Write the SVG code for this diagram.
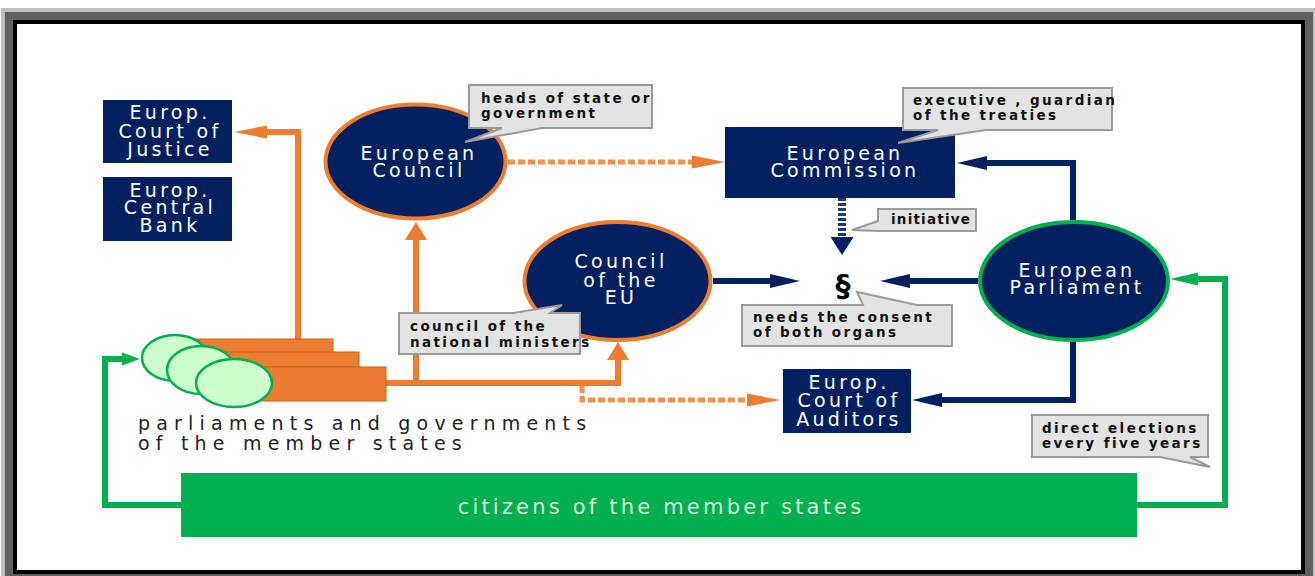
<svg xmlns="http://www.w3.org/2000/svg" width="1315" height="576" viewBox="0 0 1315 576">
<style>
.navy{fill:#002060}
.nt{font-family:"DejaVu Sans",Verdana,sans-serif;font-size:19px;fill:#ffffff;text-anchor:middle;letter-spacing:3.3px}
.ct{font-family:"DejaVu Sans",Verdana,sans-serif;font-size:13.5px;font-weight:bold;fill:#111111;letter-spacing:2.4px}
.call{fill:#e3e3e3;stroke:#9a9a9a;stroke-width:2}
.ol{fill:none;stroke:#ed7d31;stroke-width:6}
.od{fill:none;stroke:#f0924f;stroke-width:5;stroke-dasharray:7 3}
.nl{fill:none;stroke:#002060;stroke-width:6}
.nd{fill:none;stroke:#1c3a7a;stroke-width:8;stroke-dasharray:3 2}
.gl{fill:none;stroke:#00b050;stroke-width:6}
.pc{fill:#ccffcc;stroke:#00b050;stroke-width:2.5}
.or{fill:#ed7d31;stroke:#c8621e;stroke-width:1}
.pt{font-family:"DejaVu Sans",Verdana,sans-serif;font-size:19px;fill:#222222;letter-spacing:6.2px}
</style>
<defs>
<marker id="oLong" markerUnits="userSpaceOnUse" markerWidth="34" markerHeight="14" refX="0" refY="6.5" orient="auto" overflow="visible"><path d="M0,0 L33,6.5 L0,13 Z" fill="#ed7d31"/></marker>
<marker id="oShort" markerUnits="userSpaceOnUse" markerWidth="18" markerHeight="22" refX="0" refY="11" orient="auto" overflow="visible"><path d="M0,0 L18,11 L0,22 Z" fill="#ed7d31"/></marker>
<marker id="nLong" markerUnits="userSpaceOnUse" markerWidth="30" markerHeight="14" refX="0" refY="7" orient="auto" overflow="visible"><path d="M0,0 L30,7 L0,14 Z" fill="#002060"/></marker>
<marker id="nShort" markerUnits="userSpaceOnUse" markerWidth="18" markerHeight="23" refX="0" refY="11.5" orient="auto" overflow="visible"><path d="M0,0 L18,11.5 L0,23 Z" fill="#002060"/></marker>
<marker id="gArr" markerUnits="userSpaceOnUse" markerWidth="28" markerHeight="13" refX="0" refY="6.5" orient="auto" overflow="visible"><path d="M0,0 L28,6.5 L0,13 Z" fill="#00b050"/></marker>
<marker id="gArrS" markerUnits="userSpaceOnUse" markerWidth="18" markerHeight="13" refX="0" refY="6.5" orient="auto" overflow="visible"><path d="M0,0 L18,6.5 L0,13 Z" fill="#00b050"/></marker>
</defs>
<rect x="0" y="0" width="1315" height="576" fill="#ffffff"/>
<g id="frame">
<rect x="1" y="8" width="1314" height="568" fill="#c0c0c0"/>
<rect x="5" y="12" width="1308" height="564" fill="#606060"/>
<rect x="13" y="20" width="1292" height="554" fill="#000000"/>
<rect x="17" y="24" width="1284" height="546" fill="#ffffff"/>
</g>
<g id="connectors">
<path class="ol" d="M298,339 V132 H267" marker-end="url(#oLong)"/>
<path class="ol" d="M386,383 H618 V360" marker-end="url(#oShort)"/>
<path class="ol" d="M416,383 V240" marker-end="url(#oShort)"/>
<path class="od" d="M582,386 V400 H747" marker-end="url(#oLong)"/>
<path class="od" d="M508,162 H692" marker-end="url(#oLong)"/>
<path class="nl" d="M713,281 H770" marker-end="url(#nLong)"/>
<path class="nl" d="M978,281 H910" marker-end="url(#nLong)"/>
<path class="nd" d="M842,198 V237" marker-end="url(#nShort)"/>
<path class="nl" d="M1073,220 V163 H987" marker-end="url(#nLong)"/>
<path class="nl" d="M1073,342 V400 H942" marker-end="url(#nLong)"/>
<path class="gl" d="M181,505 H105 V359 H122" marker-end="url(#gArrS)"/>
<path class="gl" d="M1137,505 H1225 V279 H1198" marker-end="url(#gArr)"/>
</g>
<g id="court-of-justice">
<rect class="navy" x="103" y="100" width="129" height="63"/>
<text class="nt" x="170" y="119">Europ.</text>
<text class="nt" x="170" y="138">Court of</text>
<text class="nt" x="170" y="156">Justice</text>
</g>
<g id="central-bank">
<rect class="navy" x="103" y="177" width="129" height="64"/>
<text class="nt" x="170" y="197">Europ.</text>
<text class="nt" x="170" y="214">Central</text>
<text class="nt" x="170" y="232">Bank</text>
</g>
<g id="european-council">
<ellipse cx="415.5" cy="161.5" rx="90" ry="57" fill="#002060" stroke="#ed7d31" stroke-width="4"/>
<text class="nt" x="419" y="160">European</text>
<text class="nt" x="419" y="177">Council</text>
</g>
<g id="callout-heads">
<path class="call" d="M469,85 H652 V128 H542 L465,142 L502,128 H469 Z"/>
<text class="ct" x="481" y="103">heads of state or</text>
<text class="ct" x="481" y="118">government</text>
</g>
<g id="european-commission">
<rect class="navy" x="725" y="127" width="230" height="71"/>
<text class="nt" x="845" y="160">European</text>
<text class="nt" x="845" y="177">Commission</text>
</g>
<g id="callout-executive">
<path class="call" d="M903,88 H1112 V130 H986 L898,143 L938,130 H903 Z"/>
<text class="ct" x="913" y="105">executive , guardian</text>
<text class="ct" x="913" y="120">of the treaties</text>
</g>
<g id="callout-initiative">
<path class="call" d="M878,209 H976 V231 H878 L852,230 L878,221 Z"/>
<text class="ct" x="891" y="224" style="letter-spacing:1.2px">initiative</text>
</g>
<g id="council-of-eu">
<ellipse cx="617.5" cy="281" rx="93" ry="59" fill="#002060" stroke="#ed7d31" stroke-width="4"/>
<text class="nt" x="621" y="268">Council</text>
<text class="nt" x="621" y="287">of the</text>
<text class="nt" x="621" y="304">EU</text>
</g>
<g id="callout-ministers">
<path class="call" d="M399,313 H513 L562,305 L550,313 H580 V354 H399 Z"/>
<text class="ct" x="410" y="331">council of the</text>
<text class="ct" x="410" y="347">national ministers</text>
</g>
<g id="paragraph">
<text x="843" y="296" style="font-family:'DejaVu Sans',sans-serif;font-size:30px;font-weight:bold;fill:#000000;text-anchor:middle">§</text>
</g>
<g id="callout-consent">
<path class="call" d="M742,305 H863 L857,292 L917,305 H952 V346 H742 Z"/>
<text class="ct" x="753" y="322">needs the consent</text>
<text class="ct" x="753" y="337">of both organs</text>
</g>
<g id="european-parliament">
<ellipse cx="1074" cy="281" rx="94" ry="59" fill="#002060" stroke="#00b050" stroke-width="4"/>
<text class="nt" x="1077" y="277">European</text>
<text class="nt" x="1077" y="294">Parliament</text>
</g>
<g id="court-of-auditors">
<rect class="navy" x="783" y="369" width="128" height="64"/>
<text class="nt" x="849" y="389">Europ.</text>
<text class="nt" x="849" y="407">Court of</text>
<text class="nt" x="849" y="426">Auditors</text>
</g>
<g id="callout-elections">
<path class="call" d="M1032,415 H1208 V457 H1190 L1210,467 L1160,457 H1032 Z"/>
<text class="ct" x="1042" y="433">direct elections</text>
<text class="ct" x="1042" y="448">every five years</text>
</g>
<g id="member-states">
<rect class="or" x="190" y="339" width="143" height="14"/>
<rect class="or" x="215" y="352" width="144" height="15"/>
<rect class="or" x="240" y="367" width="146" height="34"/>
<ellipse class="pc" cx="175" cy="358" rx="33" ry="23"/>
<ellipse class="pc" cx="201" cy="370" rx="34" ry="24"/>
<ellipse class="pc" cx="234" cy="383" rx="38" ry="24"/>
<text class="pt" x="138" y="430">parliaments and governments</text>
<text class="pt" x="138" y="450">of the member states</text>
</g>
<g id="citizens">
<rect x="181" y="473" width="956" height="64" fill="#00b050"/>
<text x="661" y="514" style="font-family:'DejaVu Sans',Verdana,sans-serif;font-size:21px;fill:#d9f2d9;text-anchor:middle;letter-spacing:3.2px">citizens of the member states</text>
</g>
</svg>
